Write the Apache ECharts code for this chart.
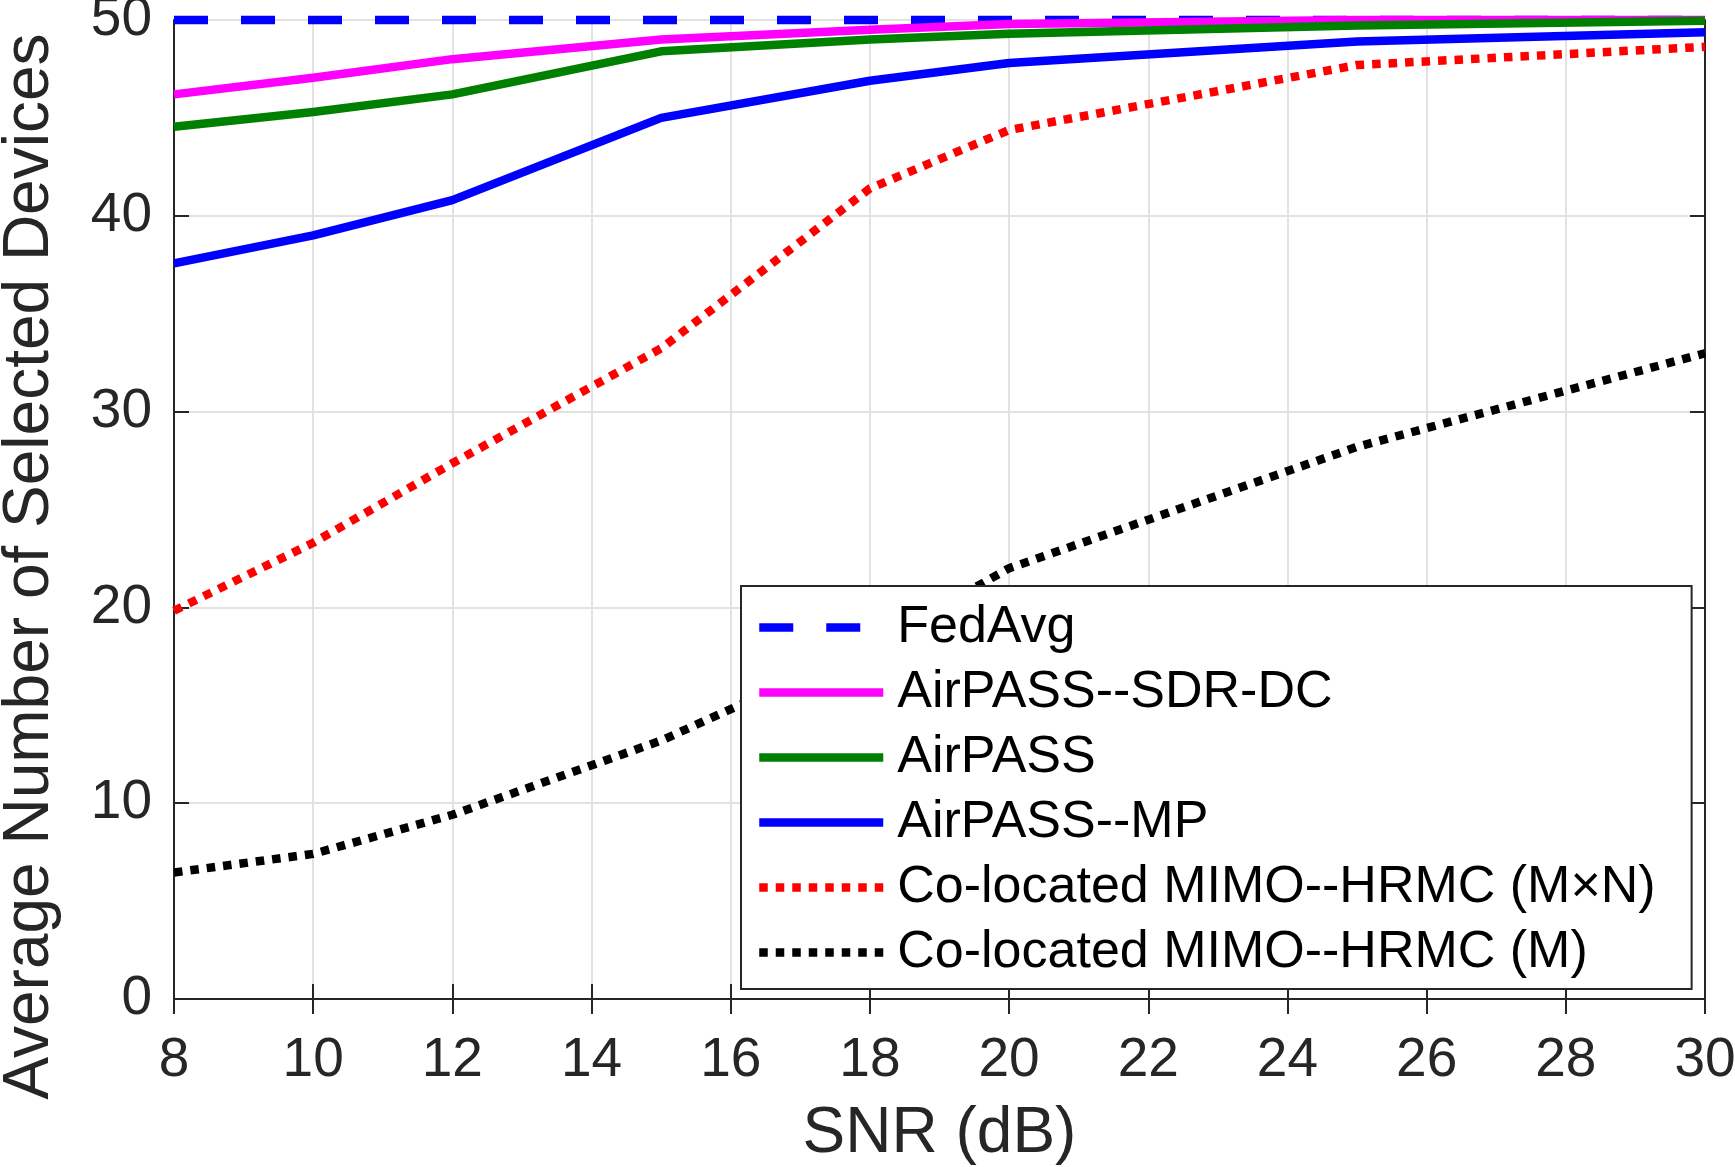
<!DOCTYPE html>
<html>
<head>
<meta charset="utf-8">
<script src="https://cdn.jsdelivr.net/npm/echarts@6/dist/echarts.min.js"></script>
<style>
  html, body { margin: 0; padding: 0; background: #fff; }
  #chart { width: 1735px; height: 1167px; }
</style>
</head>
<body>
<div id="chart"></div>
<script>
// SNR (dB) sample points
const snr = [8, 10, 12, 15, 18, 20, 25, 30]
const xTicks = [8, 10, 12, 14, 16, 18, 20, 22, 24, 26, 28, 30]
const yTicks = [0, 10, 20, 30, 40, 50]

const fedAvg = [50, 50, 50, 50, 50, 50, 50, 50]
const sdrDc = [46.2, 47.05, 48.0, 49.0, 49.5, 49.8, 50.0, 50.0]
const airPass = [44.55, 45.3, 46.2, 48.4, 49.0, 49.3, 49.72, 49.96]
const airPassMp = [37.57, 39.0, 40.8, 45.0, 46.9, 47.8, 48.9, 49.37]
const mimoMN = [19.83, 23.3, 27.36, 33.23, 41.4, 44.38, 47.7, 48.63]
const mimoM = [6.46, 7.41, 9.41, 13.2, 18.0, 22.0, 28.2, 32.98]

const font = '"Liberation Sans", Arial, Helvetica, sans-serif'
const axisColor = '#262626'

function pairs(ys) {
  return snr.map((x, i) => [x, ys[i]])
}

function line(name, ys, color, type) {
  return {
    name: name,
    type: 'line',
    data: pairs(ys),
    symbol: 'none',
    clip: false,
    animation: false,
    lineStyle: { color: color, width: 8.5, type: type, cap: 'butt', join: 'round' },
    itemStyle: { color: color }
  }
}

const chart = echarts.init(document.getElementById('chart'))

chart.setOption({
  backgroundColor: '#fff',
  textStyle: { fontFamily: font },
  grid: { left: 174, right: 30, top: 20, bottom: 168, outerBoundsMode: 'none', containLabel: false },
  legend: {
    orient: 'vertical',
    left: 741,
    top: 586,
    padding: [9, 36, 4, 14],
    itemGap: 0,
    itemWidth: 124,
    itemHeight: 20,
    backgroundColor: '#fff',
    borderColor: axisColor,
    borderWidth: 2,
    borderRadius: 0,
    itemStyle: { opacity: 0 },
    lineStyle: { width: 8.5 },
    textStyle: { fontSize: 52, color: '#000', fontFamily: font, lineHeight: 65, padding: [0, 0, 0, 9] },
    data: ['FedAvg', 'AirPASS--SDR-DC', 'AirPASS', 'AirPASS--MP',
      'Co-located MIMO--HRMC (M×N)', 'Co-located MIMO--HRMC (M)']
  },
  xAxis: [{
    type: 'value',
    min: 8,
    max: 30,
    interval: 2,
    name: 'SNR (dB)',
    nameLocation: 'middle',
    nameGap: 103,
    nameTextStyle: { fontSize: 64, color: axisColor, fontFamily: font },
    axisLine: { show: true, lineStyle: { color: axisColor, width: 2 } },
    axisTick: { show: true, inside: true, length: 15, lineStyle: { color: axisColor, width: 2 } },
    axisLabel: { fontSize: 55, color: axisColor, margin: 34, fontFamily: font },
    splitLine: { show: true, lineStyle: { color: '#e2e2e2', width: 2 } }
  }, {
    type: 'value',
    position: 'top',
    min: 8,
    max: 30,
    interval: 2,
    axisLine: { show: true, lineStyle: { color: axisColor, width: 2 } },
    axisTick: { show: true, inside: true, length: 15, lineStyle: { color: axisColor, width: 2 } },
    axisLabel: { show: false },
    splitLine: { show: false }
  }],
  yAxis: [{
    type: 'value',
    min: 0,
    max: 50,
    interval: 10,
    name: 'Average Number of Selected Devices',
    nameLocation: 'middle',
    nameGap: 112,
    nameTextStyle: { fontSize: 64, color: axisColor, fontFamily: font, padding: [0, 114, 0, 0] },
    axisLine: { show: true, lineStyle: { color: axisColor, width: 2 } },
    axisTick: { show: true, inside: true, length: 15, lineStyle: { color: axisColor, width: 2 } },
    axisLabel: { fontSize: 55, color: axisColor, margin: 22, fontFamily: font },
    splitLine: { show: true, lineStyle: { color: '#e2e2e2', width: 2 } }
  }, {
    type: 'value',
    position: 'right',
    min: 0,
    max: 50,
    interval: 10,
    axisLine: { show: true, lineStyle: { color: axisColor, width: 2 } },
    axisTick: { show: true, inside: true, length: 15, lineStyle: { color: axisColor, width: 2 } },
    axisLabel: { show: false },
    splitLine: { show: false }
  }],
  series: [
    line('FedAvg', fedAvg, '#0000ff', [34, 33]),
    line('AirPASS--SDR-DC', sdrDc, '#ff00ff', 'solid'),
    line('AirPASS', airPass, '#008000', 'solid'),
    line('AirPASS--MP', airPassMp, '#0000ff', 'solid'),
    line('Co-located MIMO--HRMC (M×N)', mimoMN, '#ff0000', [8.5, 8]),
    line('Co-located MIMO--HRMC (M)', mimoM, '#000000', [8.5, 8])
  ]
})
</script>
</body>
</html>
